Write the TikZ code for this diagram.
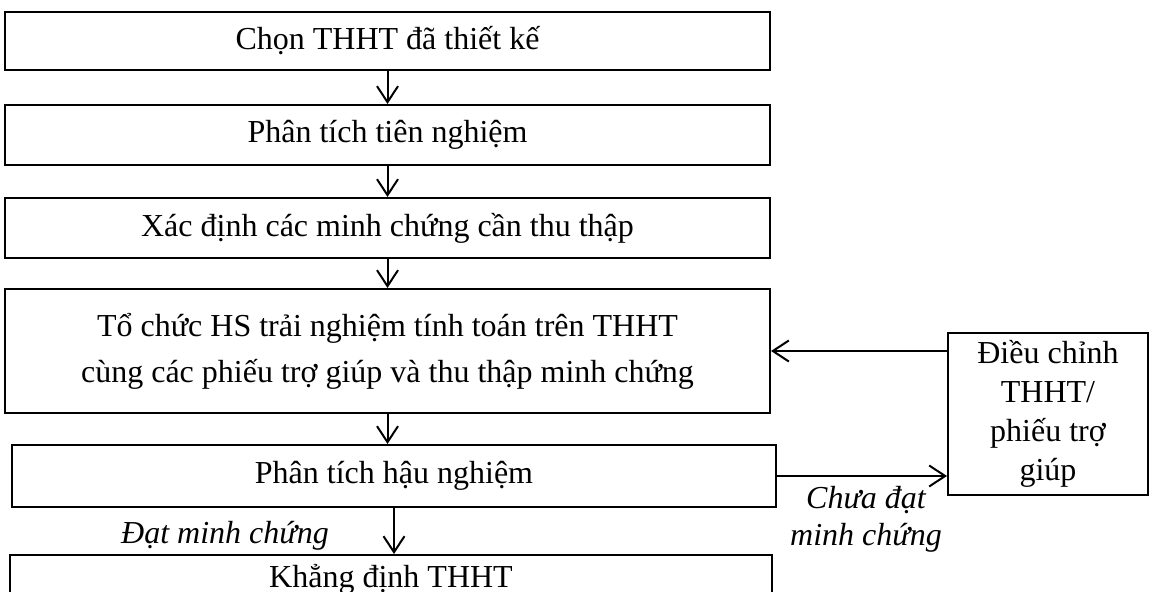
\documentclass[tikz,border=0pt]{standalone}
\usepackage{fontspec}
\setmainfont{Liberation Serif}
\usepackage{tikz}
\usetikzlibrary{arrows.meta,positioning}

\tikzset{
    stepbox/.style={draw, line width=1pt, inner sep=0pt, align=center},
    arr/.style={-{Straight Barb[length=8pt, width=10.5pt, line width=1pt]}, line width=1pt},
    note/.style={font=\fontsize{16}{18.5}\selectfont\itshape, align=center}
}

\begin{document}
\fontsize{16}{23}\selectfont
\begin{tikzpicture}[x=0.5pt, y=-0.5pt]
    \useasboundingbox (0,0) rectangle (1149,592);

    % Main column
    \node[stepbox, minimum width=382.5pt, minimum height=29pt] (chon) at (387.5, 41) {Chọn THHT đã thiết kế};
    \node[stepbox, minimum width=382.5pt, minimum height=30pt] (tien) at (387.5, 135) {Phân tích tiên nghiệm};
    \node[stepbox, minimum width=382.5pt, minimum height=30pt] (xac) at (387.5, 228) {Xác định các minh chứng cần thu thập};
    \node[stepbox, minimum width=382.5pt, minimum height=62pt] (tochuc) at (387.5, 351) {Tổ chức HS trải nghiệm tính toán trên THHT\\cùng các phiếu trợ giúp và thu thập minh chứng};
    \node[stepbox, minimum width=382pt, minimum height=31pt] (hau) at (394, 476) {Phân tích hậu nghiệm};
    \node[stepbox, minimum width=381pt, minimum height=24pt] (khang) at (391, 579) {Khẳng định THHT};

    % Side box
    \node[stepbox, font=\fontsize{16}{19.5}\selectfont, minimum width=100pt, minimum height=81pt] (dieu) at (1048, 414) {Điều chỉnh\\THHT/\\phiếu trợ\\giúp};

    % Arrows
    \draw[arr] (chon) -- (tien);
    \draw[arr] (tien) -- (xac);
    \draw[arr] (xac) -- (tochuc);
    \draw[arr] (tochuc) -- (tochuc |- hau.north);
    \draw[arr] (hau) -- (hau |- khang.north);
    \draw[arr] (dieu.west |- tochuc.east) -- (tochuc.east);
    \draw[arr] (hau.east) -- (dieu.west |- hau.east);

    % Labels
    \node[note] (chuadat) at (866, 519) {Chưa đạt\\minh chứng};
    \node[note] (dat) at (225, 536) {Đạt minh chứng};
\end{tikzpicture}
\end{document}
